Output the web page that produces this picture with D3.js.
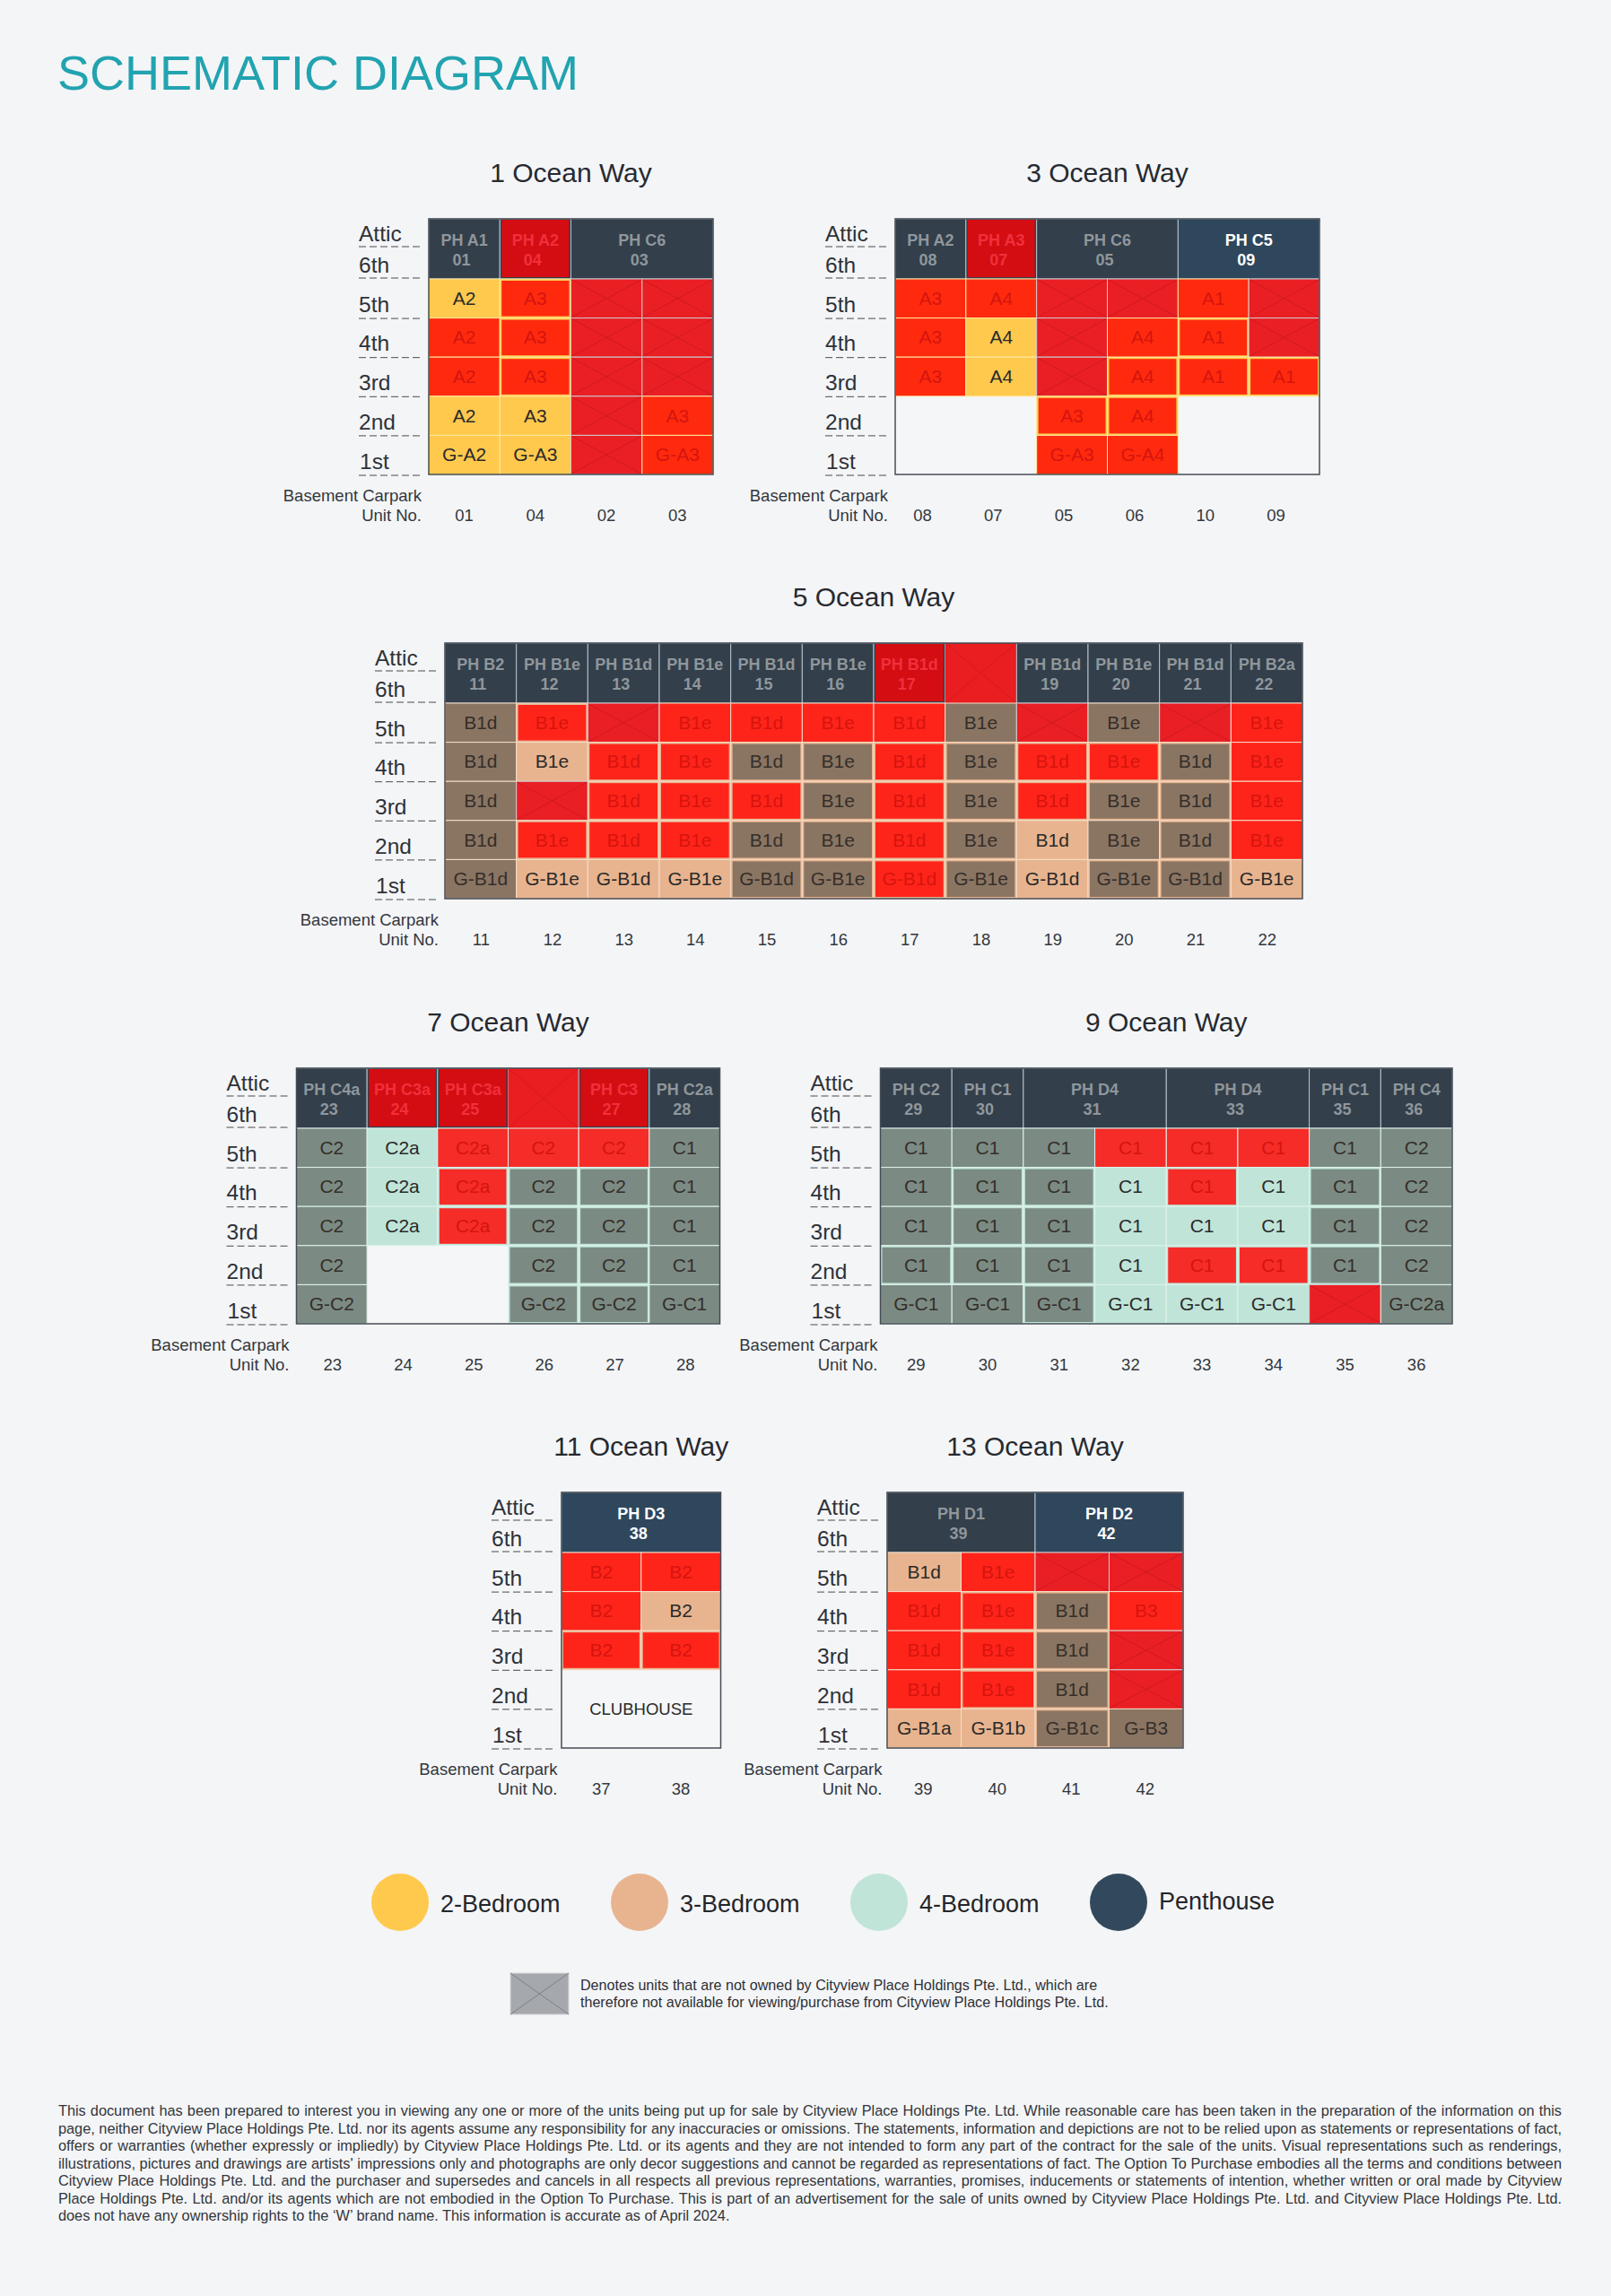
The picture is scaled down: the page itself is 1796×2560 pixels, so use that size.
<!DOCTYPE html>
<html><head><meta charset="utf-8">
<script src="https://cdn.jsdelivr.net/npm/d3@7/dist/d3.min.js"></script>
<style>html,body{margin:0;padding:0;background:#F4F5F7}svg{display:block}text{font-family:"Liberation Sans",Arial,sans-serif}</style>
</head><body><svg id="c" width="1796" height="2560"></svg>
<script>
const pageTitle = "SCHEMATIC DIAGRAM";
const floors = ["5th","4th","3rd","2nd","1st"];
const headFloors = ["Attic","6th"];

// state codes: a available, s/S sold (inset/flush), d/D reserved (inset/flush), x not owned, - blank
const way1Title = "1 Ocean Way";
const way1Units = ["01","04","02","03"];
const way1Penthouses = [["PH A1","01",1,"d"],["PH A2","04",1,"r"],["PH C6","03",2,"d"]];
const way1Labels = [["A2","A3","",""],["A2","A3","",""],["A2","A3","",""],["A2","A3","","A3"],["G-A2","G-A3","","G-A3"]];
const way1States = [["a","s","x","x"],["S","s","x","x"],["S","s","x","x"],["a","a","x","S"],["a","a","x","S"]];

const way3Title = "3 Ocean Way";
const way3Units = ["08","07","05","06","10","09"];
const way3Penthouses = [["PH A2","08",1,"d"],["PH A3","07",1,"r"],["PH C6","05",2,"d"],["PH C5","09",2,"a"]];
const way3Labels = [["A3","A4","","","A1",""],["A3","A4","","A4","A1",""],["A3","A4","","A4","A1","A1"],["","","A3","A4","",""],["","","G-A3","G-A4","",""]];
const way3States = [["S","S","x","x","S","x"],["S","a","x","S","s","x"],["S","a","x","s","s","s"],["-","-","s","s","-","-"],["-","-","S","S","-","-"]];

const way5Title = "5 Ocean Way";
const way5Units = ["11","12","13","14","15","16","17","18","19","20","21","22"];
const way5Penthouses = [["PH B2","11",1,"d"],["PH B1e","12",1,"d"],["PH B1d","13",1,"d"],["PH B1e","14",1,"d"],["PH B1d","15",1,"d"],["PH B1e","16",1,"d"],["PH B1d","17",1,"r"],["","",1,"x"],["PH B1d","19",1,"d"],["PH B1e","20",1,"d"],["PH B1d","21",1,"d"],["PH B2a","22",1,"d"]];
const way5Labels = [
 ["B1d","B1e","","B1e","B1d","B1e","B1d","B1e","","B1e","","B1e"],
 ["B1d","B1e","B1d","B1e","B1d","B1e","B1d","B1e","B1d","B1e","B1d","B1e"],
 ["B1d","","B1d","B1e","B1d","B1e","B1d","B1e","B1d","B1e","B1d","B1e"],
 ["B1d","B1e","B1d","B1e","B1d","B1e","B1d","B1e","B1d","B1e","B1d","B1e"],
 ["G-B1d","G-B1e","G-B1d","G-B1e","G-B1d","G-B1e","G-B1d","G-B1e","G-B1d","G-B1e","G-B1d","G-B1e"]];
const way5States = [
 ["D","s","x","S","S","S","S","D","x","D","x","S"],
 ["D","a","s","s","d","d","s","d","s","s","d","S"],
 ["D","x","s","s","s","d","s","d","s","d","d","S"],
 ["D","s","s","s","d","d","s","d","a","D","d","S"],
 ["D","a","a","a","d","d","s","d","a","d","d","a"]];

const way7Title = "7 Ocean Way";
const way7Units = ["23","24","25","26","27","28"];
const way7Penthouses = [["PH C4a","23",1,"d"],["PH C3a","24",1,"r"],["PH C3a","25",1,"r"],["","",1,"x"],["PH C3","27",1,"r"],["PH C2a","28",1,"d"]];
const way7Labels = [["C2","C2a","C2a","C2","C2","C1"],["C2","C2a","C2a","C2","C2","C1"],["C2","C2a","C2a","C2","C2","C1"],["C2","","","C2","C2","C1"],["G-C2","","","G-C2","G-C2","G-C1"]];
const way7States = [["D","a","S","S","S","D"],["D","a","s","d","d","D"],["D","a","s","d","d","D"],["D","-","-","d","d","D"],["D","-","-","d","d","D"]];

const way9Title = "9 Ocean Way";
const way9Units = ["29","30","31","32","33","34","35","36"];
const way9Penthouses = [["PH C2","29",1,"d"],["PH C1","30",1,"d"],["PH D4","31",2,"d"],["PH D4","33",2,"d"],["PH C1","35",1,"d"],["PH C4","36",1,"d"]];
const way9Labels = [["C1","C1","C1","C1","C1","C1","C1","C2"],["C1","C1","C1","C1","C1","C1","C1","C2"],["C1","C1","C1","C1","C1","C1","C1","C2"],["C1","C1","C1","C1","C1","C1","C1","C2"],["G-C1","G-C1","G-C1","G-C1","G-C1","G-C1","","G-C2a"]];
const way9States = [["D","D","D","S","S","S","D","D"],["D","d","d","a","s","a","d","D"],["D","d","d","a","a","a","d","D"],["d","d","d","a","s","s","d","D"],["D","D","d","a","a","a","x","D"]];

const way11Title = "11 Ocean Way";
const way11Units = ["37","38"];
const way11Penthouses = [["PH D3","38",2,"a"]];
const way11Labels = [["B2","B2"],["B2","B2"],["B2","B2"],["",""],["",""]];
const way11States = [["S","S"],["S","a"],["s","s"],["-","-"],["-","-"]];
const way11Note = "CLUBHOUSE";

const way13Title = "13 Ocean Way";
const way13Units = ["39","40","41","42"];
const way13Penthouses = [["PH D1","39",2,"d"],["PH D2","42",2,"a"]];
const way13Labels = [["B1d","B1e","",""],["B1d","B1e","B1d","B3"],["B1d","B1e","B1d",""],["B1d","B1e","B1d",""],["G-B1a","G-B1b","G-B1c","G-B3"]];
const way13States = [["a","S","x","x"],["S","s","d","S"],["S","s","d","x"],["S","s","d","x"],["a","a","d","D"]];

const legendLabels = ["2-Bedroom","3-Bedroom","4-Bedroom","Penthouse"];
const legendKeys = ["y","p","m","n"];
const noteLines = ["Denotes units that are not owned by Cityview Place Holdings Pte. Ltd., which are","therefore not available for viewing/purchase from Cityview Place Holdings Pte. Ltd."];
const disclaimerLines = [
"This document has been prepared to interest you in viewing any one or more of the units being put up for sale by Cityview Place Holdings Pte. Ltd. While reasonable care has been taken in the preparation of the information on this",
"page, neither Cityview Place Holdings Pte. Ltd. nor its agents assume any responsibility for any inaccuracies or omissions. The statements, information and depictions are not to be relied upon as statements or representations of fact,",
"offers or warranties (whether expressly or impliedly) by Cityview Place Holdings Pte. Ltd. or its agents and they are not intended to form any part of the contract for the sale of the units. Visual representations such as renderings,",
"illustrations, pictures and drawings are artists' impressions only and photographs are only decor suggestions and cannot be regarded as representations of fact. The Option To Purchase embodies all the terms and conditions between",
"Cityview Place Holdings Pte. Ltd. and the purchaser and supersedes and cancels in all respects all previous representations, warranties, promises, inducements or statements of intention, whether written or oral made by Cityview",
"Place Holdings Pte. Ltd. and/or its agents which are not embodied in the Option To Purchase. This is part of an advertisement for the sale of units owned by Cityview Place Holdings Pte. Ltd. and Cityview Place Holdings Pte. Ltd.",
"does not have any ownership rights to the \u2018W\u2019 brand name. This information is accurate as of April 2024."];

// ---- styling & layout ----
const pal = {
 y:{base:"#FFC94D",line:"#FFE8A0",red:"#FF2A0E",dim:"#8A7563"},
 p:{base:"#E8B48F",line:"#F6DDC8",red:"#FF241A",dim:"#8A7563"},
 m:{base:"#C0E4D8",line:"#DFF3EC",red:"#F52C28",dim:"#7B8B84"}
};
const buildings = [
 {title:way1Title,units:way1Units,ph:way1Penthouses,labels:way1Labels,states:way1States,kind:"y",L:478,R:795,T:244,labelGap:8,unitDx:0},
 {title:way3Title,units:way3Units,ph:way3Penthouses,labels:way3Labels,states:way3States,kind:"y",L:998,R:1471,T:244,labelGap:8,unitDx:-9},
 {title:way5Title,units:way5Units,ph:way5Penthouses,labels:way5Labels,states:way5States,kind:"p",L:496,R:1452,T:717,labelGap:7,unitDx:0.5},
 {title:way7Title,units:way7Units,ph:way7Penthouses,labels:way7Labels,states:way7States,kind:"m",L:330.5,R:802.5,T:1191,labelGap:8,unitDx:1},
 {title:way9Title,units:way9Units,ph:way9Penthouses,labels:way9Labels,states:way9States,kind:"m",L:981.5,R:1619,T:1191,labelGap:3,unitDx:0},
 {title:way11Title,units:way11Units,ph:way11Penthouses,labels:way11Labels,states:way11States,kind:"p",L:626,R:803.5,T:1664,labelGap:4.5,unitDx:0,note:way11Note},
 {title:way13Title,units:way13Units,ph:way13Penthouses,labels:way13Labels,states:way13States,kind:"p",L:989,R:1319,T:1664,labelGap:5.5,unitDx:-1}
];
const svg = d3.select("#c");
svg.append("rect").attr("width",1796).attr("height",2560).attr("fill","#F4F5F7");
svg.append("text").attr("x",64).attr("y",99.5).attr("font-size",54).attr("fill","#22A3B0").text(pageTitle);

function drawX(g,x,y,w,h,stroke){
 g.append("line").attr("x1",x).attr("y1",y).attr("x2",x+w).attr("y2",y+h).attr("stroke",stroke).attr("stroke-width",1);
 g.append("line").attr("x1",x+w).attr("y1",y).attr("x2",x).attr("y2",y+h).attr("stroke",stroke).attr("stroke-width",1);
}
buildings.forEach(b=>{
 const g = svg.append("g");
 const H = b.T+67, B = b.T+285;
 const xs = d3.scaleBand().domain(b.units).range([b.L,b.R]);
 const ys = d3.scaleBand().domain(floors).range([H,B]);
 const pc = pal[b.kind];
 g.append("text").attr("x",(b.L+b.R)/2).attr("y",b.T-41).attr("text-anchor","middle").attr("font-size",30).attr("fill","#262A30").text(b.title);
 // grid background
 g.append("rect").attr("x",b.L).attr("y",b.T).attr("width",b.R-b.L).attr("height",B-b.T).attr("fill","#F5F6F8");
 // penthouses
 let col=0;
 b.ph.forEach(p=>{
  const x=xs(b.units[col]), w=xs.bandwidth()*p[2], h=H-b.T;
  const st=p[3];
  const dark = st==="a"?"#2F475C":"#333F4A";
  if(st==="x"){
   g.append("rect").attr("x",x).attr("y",b.T).attr("width",w).attr("height",h).attr("fill","#EA1D20");
   drawX(g,x,b.T,w,h,"#D51A1F");
  } else {
   g.append("rect").attr("x",x).attr("y",b.T).attr("width",w).attr("height",h).attr("fill",dark).attr("stroke","#B4C3CF").attr("stroke-width",1);
   if(st==="r") g.append("rect").attr("x",x+2).attr("y",b.T+1).attr("width",w-4).attr("height",h-3).attr("fill","#D40D12");
   const fill = st==="a"?"#FFFFFF":st==="r"?"#F0303C":"#8F969C";
   g.append("text").attr("x",x+w/2).attr("y",b.T+30).attr("text-anchor","middle").attr("font-size",18).attr("font-weight","bold").attr("fill",fill).text(p[0]);
   g.append("text").attr("x",x+w/2-3).attr("y",b.T+52).attr("text-anchor","middle").attr("font-size",18).attr("font-weight","bold").attr("fill",fill).text(p[1]);
  }
  col+=p[2];
 });
 // cells
 floors.forEach((f,r)=>{
  b.units.forEach((u,c)=>{
   const st=b.states[r][c], lab=b.labels[r][c];
   if(st==="-") return;
   const x=xs(u), y=ys(f), w=xs.bandwidth(), h=ys.bandwidth();
   if(st==="x"){
    g.append("rect").attr("x",x).attr("y",y).attr("width",w).attr("height",h).attr("fill","#EA1F24").attr("stroke","#C9CCD0").attr("stroke-width",1);
    drawX(g,x+1,y+1,w-2,h-2,"#CE1A1F");
    return;
   }
   const flushRed=st==="S", inRed=st==="s", flushDim=st==="D", inDim=st==="d";
   const outer = flushRed?pc.red:flushDim?pc.dim:pc.base;
   g.append("rect").attr("x",x).attr("y",y).attr("width",w).attr("height",h).attr("fill",outer).attr("stroke",pc.line).attr("stroke-width",1);
   if(inRed||inDim) g.append("rect").attr("x",x+2).attr("y",y+2).attr("width",w-4).attr("height",h-4).attr("fill",inRed?pc.red:pc.dim);
   const tc = (flushRed||inRed)?"#D6140E":(flushDim||inDim)?"#352E29":"#2A2A2A";
   g.append("text").attr("x",x+w/2).attr("y",y+h/2+7).attr("text-anchor","middle").attr("font-size",21).attr("fill",tc).text(lab);
  });
 });
 if(b.note){
  g.append("text").attr("x",(b.L+b.R)/2).attr("y",ys("2nd")+ys.bandwidth()+6.5).attr("text-anchor","middle").attr("font-size",18.5).attr("fill","#2A2A2A").text(b.note);
 }
 // outline
 g.append("rect").attr("x",b.L).attr("y",b.T).attr("width",b.R-b.L).attr("height",B-b.T).attr("fill","none").attr("stroke","#454C54").attr("stroke-width",1.5);
 // floor labels + dashes
 const yhead = d3.scaleBand().domain(headFloors).range([b.T,H]);
 const lx=b.L-78;
 const dash=(y)=>g.append("line").attr("x1",lx).attr("x2",b.L-6).attr("y1",y).attr("y2",y).attr("stroke","#4A4A4A").attr("stroke-width",1).attr("stroke-dasharray","8 4");
 headFloors.forEach((f,i)=>{
  g.append("text").attr("x",lx).attr("y",yhead(f)+yhead.bandwidth()/2+(i?9.5:8)).attr("font-size",24.5).attr("fill","#2E3238").text(f);
  dash(yhead(f)+yhead.bandwidth()-(i?1:2.5));
 });
 floors.forEach((f,i)=>{
  g.append("text").attr("x",lx+(f==="1st"?1:0)).attr("y",ys(f)+ys.bandwidth()/2+15+(f==="1st"?1:0)).attr("font-size",24.5).attr("fill","#2E3238").text(f);
  dash(ys(f)+ys.bandwidth()+(f==="1st"?1:0.5));
 });
 // bottom labels
 g.append("text").attr("x",b.L-b.labelGap).attr("y",b.T+315).attr("text-anchor","end").attr("font-size",18.5).attr("fill","#33373C").text("Basement Carpark");
 g.append("text").attr("x",b.L-b.labelGap).attr("y",b.T+337).attr("text-anchor","end").attr("font-size",18.5).attr("fill","#33373C").text("Unit No.");
 b.units.forEach(u=>{
  g.append("text").attr("x",xs(u)+xs.bandwidth()/2+b.unitDx).attr("y",b.T+337).attr("text-anchor","middle").attr("font-size",18.5).attr("fill","#33373C").text(u);
 });
});

// legend
const legendColour = d3.scaleOrdinal().domain(legendKeys).range(["#FFC94D","#E8B48F","#C0E4D8","#32495D"]);
const legendX = d3.scalePoint().domain(legendKeys).range([446,1247]);
legendKeys.forEach((k,i)=>{
 const cx=legendX(k);
 svg.append("circle").attr("cx",cx).attr("cy",2121).attr("r",32).attr("fill",legendColour(k));
 svg.append("text").attr("x",cx+45).attr("y",k==="n"?2128.5:2131.5).attr("font-size",27).attr("fill","#24262A").text(legendLabels[i]);
});
svg.append("rect").attr("x",569).attr("y",2200).attr("width",65).attr("height",46).attr("fill","#A5A8AD").attr("stroke","#D5D7DA").attr("stroke-width",1);
drawX(svg,569,2200,65,46,"#7D8085");
noteLines.forEach((l,i)=>svg.append("text").attr("x",647).attr("y",2219+i*19).attr("font-size",16.1).attr("fill","#2E3034").text(l));

// disclaimer, justified through word-spacing
disclaimerLines.forEach((l,i)=>{
 const t=svg.append("text").attr("x",65).attr("y",2359+i*19.5).attr("font-size",16.3).attr("fill","#33363A").text(l);
 if(i<disclaimerLines.length-1){
  const gaps=l.split(" ").length-1;
  const sp=(1676-t.node().getComputedTextLength())/gaps;
  t.attr("word-spacing",sp.toFixed(3));
 }
});
</script></body></html>
